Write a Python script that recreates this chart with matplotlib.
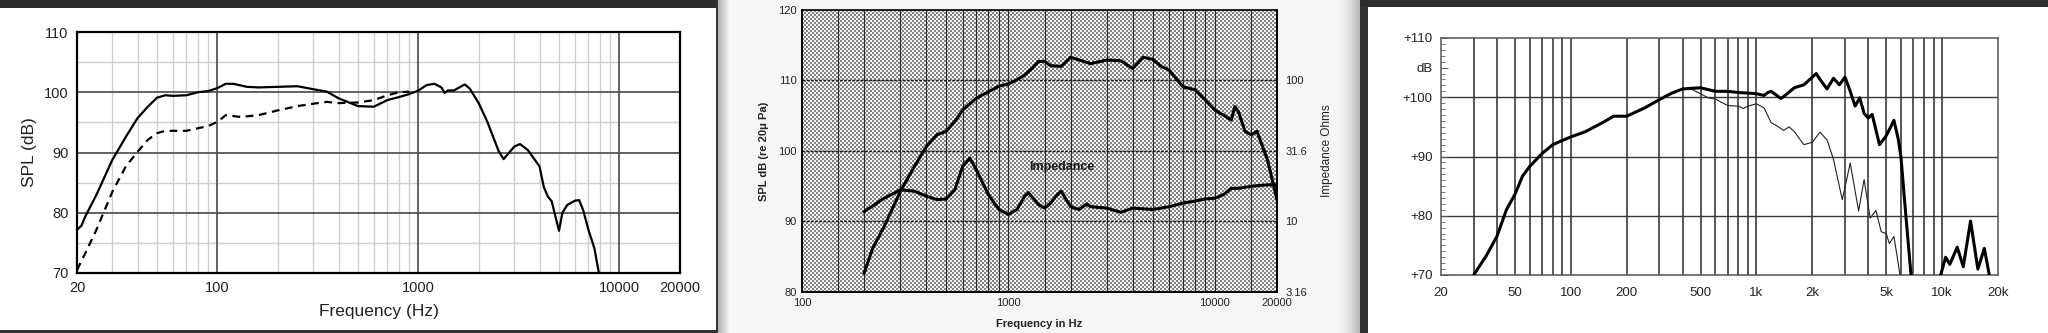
import numpy as np
import matplotlib
matplotlib.use('Agg')
import matplotlib.pyplot as plt
from matplotlib.ticker import FixedLocator, NullFormatter

# --- left sheet: SPL with and without baffle ---
f_a = [20, 21, 22, 25, 30, 35, 40, 45, 50, 55, 60, 70, 80, 90, 100, 110, 120, 140, 160,
       200, 250, 300, 350, 400, 500, 600, 700, 800, 900, 1000, 1100, 1200, 1300, 1350,
       1400, 1500, 1700, 1800, 2000, 2200, 2500, 2650, 3000, 3200, 3500, 4000, 4200,
       4400, 4600, 5000, 5200, 5500, 6000, 6300, 6600, 7000, 7500, 7900]
spl_a = [77.2, 77.8, 79.4, 83.0, 88.8, 92.6, 95.7, 97.6, 99.1, 99.5, 99.4, 99.5, 100.0,
         100.2, 100.7, 101.4, 101.4, 100.9, 100.8, 100.9, 101.0, 100.5, 100.1, 99.0, 97.7,
         97.6, 98.7, 99.2, 99.7, 100.3, 101.2, 101.4, 100.8, 99.9, 100.3, 100.3, 101.3,
         100.6, 98.1, 95.1, 90.3, 88.9, 91.0, 91.4, 90.4, 87.7, 84.3, 82.7, 81.9, 77.0,
         80.0, 81.3, 82.0, 82.1, 80.4, 77.2, 74.1, 70.0]
f_a2 = [20, 22, 25, 27.5, 30, 35, 40, 45, 50, 55, 70, 90, 100, 110, 130, 160, 200, 250,
        300, 350, 400, 500, 600, 700, 800, 900]
spl_a2 = [70.5, 73.3, 77.2, 80.5, 83.5, 87.7, 90.1, 92.1, 93.2, 93.6, 93.6, 94.4, 95.1,
          96.2, 95.9, 96.2, 97.0, 97.7, 98.1, 98.4, 98.2, 98.3, 98.7, 99.5, 100.0, 100.1]

# --- middle sheet: horn driver SPL + impedance ---
f_b = [200, 220, 250, 300, 350, 400, 450, 500, 550, 600, 700, 800, 900, 1000, 1100, 1200,
       1300, 1400, 1500, 1600, 1800, 2000, 2200, 2500, 3000, 3500, 4000, 4500, 5000, 5500,
       6000, 7000, 8000, 9000, 10000, 11000, 12000, 12500, 13000, 14000, 15000, 16000,
       18000, 20000]
spl_b = [82.7, 86.2, 89.3, 94.3, 97.8, 100.6, 102.3, 102.8, 104.2, 105.8, 107.5, 108.4,
         109.2, 109.5, 110.1, 110.8, 111.7, 112.7, 112.7, 112.1, 112.0, 113.3, 112.9, 112.4,
         112.9, 112.8, 111.7, 113.3, 113.0, 112.0, 111.5, 109.1, 108.7, 107.2, 105.8, 105.1,
         104.4, 106.3, 105.6, 102.8, 102.3, 102.8, 98.7, 93.1]
f_z = [200, 250, 300, 350, 400, 450, 500, 550, 600, 650, 700, 800, 900, 1000, 1100, 1200,
       1250, 1400, 1500, 1600, 1700, 1800, 2000, 2200, 2400, 2500, 3000, 3500, 4000, 5000,
       6000, 7000, 8000, 9000, 10000, 11000, 12000, 13000, 15000, 18000, 20000]
imp_db = [91.4, 93.3, 94.5, 94.3, 93.6, 93.1, 93.2, 94.5, 97.8, 99.0, 97.3, 93.8, 91.7,
          91.0, 91.7, 93.6, 94.1, 92.4, 91.9, 92.6, 93.6, 94.3, 92.1, 91.7, 92.5, 92.1,
          91.9, 91.3, 91.9, 91.7, 92.1, 92.6, 92.9, 93.2, 93.3, 93.8, 94.7, 94.7, 95.0,
          95.2, 95.2]

# --- right sheet: on-axis (thick) and off-axis (thin) ---
f_c = [30, 35, 40, 45, 50, 55, 60, 70, 80, 90, 100, 120, 150, 170, 200, 250, 300, 350,
       400, 500, 600, 700, 800, 900, 1000, 1100, 1150, 1200, 1300, 1350, 1400, 1600, 1800,
       2000, 2100, 2200, 2400, 2600, 2800, 3000, 3200, 3400, 3600, 3800, 4000, 4200, 4600,
       5000, 5500, 5800, 6000, 6300, 6800]
on_axis = [70.0, 73.2, 76.5, 81.0, 83.6, 86.7, 88.3, 90.5, 92.0, 92.7, 93.3, 94.2, 95.8,
           96.8, 96.8, 98.2, 99.6, 100.7, 101.4, 101.6, 101.0, 101.0, 100.8, 100.7, 100.6,
           100.3, 100.8, 101.0, 100.2, 99.8, 100.1, 101.6, 102.1, 103.4, 104.0, 103.0,
           101.4, 103.2, 102.1, 103.4, 101.0, 98.5, 99.9, 97.3, 96.5, 97.1, 92.0, 93.5,
           96.1, 93.0, 90.0, 82.0, 70.0]
f_c_hi = [9820, 10450, 11000, 12060, 13000, 14230, 15580, 16880, 17950]
on_axis_hi = [70.0, 73.0, 71.8, 74.7, 71.4, 79.1, 71.0, 74.5, 70.0]
f_c_off = [420, 450, 500, 550, 600, 700, 800, 850, 900, 1000, 1100, 1200, 1300, 1400, 1500,
           1600, 1800, 2000, 2200, 2400, 2600, 2900, 3200, 3550, 3800, 4100, 4400, 4700,
           5000, 5200, 5500, 5700, 5930]
off_axis = [101.5, 101.3, 100.6, 99.9, 99.7, 98.6, 98.5, 98.1, 98.5, 98.9, 98.2, 95.7, 95.1,
            94.4, 95.0, 94.2, 92.0, 92.4, 94.1, 92.8, 89.5, 82.7, 88.9, 80.8, 86.1, 79.6,
            80.9, 77.3, 77.0, 75.3, 76.5, 73.5, 70.0]

W, H = 2048, 333
fig = plt.figure(figsize=(W / 100, H / 100), dpi=100)


def rect(x0, y0, x1, y1):
    return [x0 / W, 1 - y1 / H, (x1 - x0) / W, (y1 - y0) / H]


# page backgrounds of the three sheets
bg = np.ones((H, W, 3))
bg[0:8, 0:716] = 0.17
bg[330:, 0:716] = 0.2
bg[:, 716:718] = 0.2
for i, x in enumerate(range(718, 730)):
    bg[:, x] = 0.70 + (0.965 - 0.70) * i / 11
bg[:, 730:1333] = 0.965
for i, x in enumerate(range(1333, 1360)):
    bg[:, x] = 0.965 - (0.965 - 0.72) * (i / 26) ** 2
bg[:, 1360:1368] = 0.2
bg[0:7, 1360:] = 0.18
# halftone screen behind the middle chart
yy, xx = np.mgrid[10:292, 802:1277]
dots = ((yy // 2 + xx // 2) % 2 == 0)
bg[10:292, 802:1277] = np.where(dots, 0.52, 0.95)[..., None]

ax_bg = fig.add_axes([0, 0, 1, 1])
ax_bg.imshow(bg, aspect='auto', interpolation='nearest')
ax_bg.axis('off')

narrow = ['Liberation Sans Narrow', 'Liberation Sans', 'DejaVu Sans']
sans = ['Liberation Sans', 'DejaVu Sans']

# ---------------- left ----------------
ax1 = fig.add_axes(rect(77, 32, 680, 273))
ax1.set_facecolor('none')
ax1.set_xscale('log')
ax1.set_xlim(20, 20000)
ax1.set_ylim(70, 110)
minor_x = [m * d for d in (10, 100, 1000) for m in range(2, 10) if m * d > 20]
for x in minor_x:
    ax1.axvline(x, color='#cfcfcf', lw=1.0, zorder=1)
for y in (75, 85, 95, 105):
    ax1.axhline(y, color='#cfcfcf', lw=1.0, zorder=1)
for x in (100, 1000, 10000):
    ax1.axvline(x, color='#555555', lw=1.3, zorder=2)
for y in (80, 90, 100):
    ax1.axhline(y, color='#555555', lw=1.3, zorder=2)
ax1.plot(f_a, spl_a, color='black', lw=1.6, zorder=4)
ax1.plot(f_a2, spl_a2, color='black', lw=1.6, ls=(0, (3.5, 2.5)), zorder=4)
ax1.xaxis.set_major_locator(FixedLocator([20, 100, 1000, 10000, 20000]))
ax1.xaxis.set_minor_locator(FixedLocator([]))
ax1.set_xticklabels(['20', '100', '1000', '10000', '20000'])
ax1.set_yticks([70, 80, 90, 100, 110])
ax1.tick_params(length=0, pad=6, labelsize=10.5, colors='#222222')
for t in ax1.get_xticklabels() + ax1.get_yticklabels():
    t.set_family(narrow)
for s in ax1.spines.values():
    s.set_linewidth(1.6)
    s.set_zorder(5)
ax1.set_xlabel('Frequency (Hz)', fontsize=12.5, family=narrow, labelpad=6, color='#222222')
ax1.set_ylabel('SPL (dB)', fontsize=12.5, family=narrow, labelpad=5, color='#222222')

# ---------------- middle ----------------
ax2 = fig.add_axes(rect(802, 10, 1277, 292))
ax2.set_facecolor('none')
ax2.set_xscale('log')
ax2.set_xlim(100, 20000)
ax2.set_ylim(80, 120)
grid_b = [150, 200, 300, 400, 500, 600, 700, 800, 900, 1000, 1500, 2000, 3000, 4000, 5000,
          6000, 7000, 8000, 9000, 10000, 15000]
for x in grid_b:
    ax2.axvline(x, color='#2a2a2a', lw=0.8, zorder=1)
for y in (90, 100, 110):
    ax2.axhline(y, color='#1a1a1a', lw=1.0, ls=(0, (2, 1)), zorder=1)
ax2.plot(f_b, spl_b, color='black', lw=2.2, zorder=4)
ax2.plot(f_z, imp_db, color='black', lw=2.2, zorder=4)
ax2.text(1820, 97.7, 'Impedance', fontsize=9, fontweight='bold', family=sans,
         ha='center', va='center', color='#1a1a1a', zorder=5)
ax2.xaxis.set_major_locator(FixedLocator([100, 1000, 10000, 20000]))
ax2.xaxis.set_minor_locator(FixedLocator([]))
ax2.set_xticklabels(['100', '1000', '10000', '20000'])
ax2.set_yticks([80, 90, 100, 110, 120])
ax2.tick_params(length=0, pad=4, labelsize=8, colors='#222222')
for t in ax2.get_xticklabels() + ax2.get_yticklabels():
    t.set_family(sans)
ax2.spines['top'].set_linestyle((0, (2, 1)))
ax2.spines['top'].set_linewidth(1.2)
for k in ('left', 'bottom', 'right'):
    ax2.spines[k].set_linewidth(1.4)
ax2.set_xlabel('Frequency in Hz', fontsize=8, fontweight='bold', family=sans, labelpad=8,
               color='#222222')
ax2.set_ylabel('SPL dB (re 20\u03bc Pa)', fontsize=8, fontweight='bold', family=sans,
               labelpad=6, color='#222222')
ax2r = ax2.twinx()
ax2r.set_yscale('log')
ax2r.set_ylim(3.16, 316)
ax2r.yaxis.set_major_locator(FixedLocator([3.16, 10, 31.6, 100]))
ax2r.yaxis.set_minor_locator(FixedLocator([]))
ax2r.yaxis.set_minor_formatter(NullFormatter())
ax2r.set_yticklabels(['3.16', '10', '31.6', '100'])
ax2r.tick_params(length=0, pad=6, labelsize=8, colors='#222222')
for t in ax2r.get_yticklabels():
    t.set_family(sans)
for s in ax2r.spines.values():
    s.set_visible(False)
ax2r.set_ylabel('Impedance Ohms', fontsize=8.5, family=sans, labelpad=10, color='#222222')

# ---------------- right ----------------
ax3 = fig.add_axes(rect(1441, 38, 1998, 275))
ax3.set_facecolor('none')
ax3.set_xscale('log')
ax3.set_xlim(20, 20000)
ax3.set_ylim(70, 110)
grid_c = [m * d for d in (10, 100, 1000) for m in range(1, 10) if 20 < m * d] + [10000]
for x in grid_c:
    ax3.axvline(x, color='#2a2a2a', lw=1.1, zorder=1)
for y in (80, 90, 100):
    ax3.axhline(y, color='#3a3a3a', lw=1.0, zorder=1)
ax3.plot(f_c_off, off_axis, color='#222222', lw=0.8, zorder=3)
ax3.plot(f_c, on_axis, color='black', lw=2.2, zorder=4)
ax3.plot(f_c_hi, on_axis_hi, color='black', lw=2.2, zorder=4)
xt = [20, 50, 100, 200, 500, 1000, 2000, 5000, 10000, 20000]
ax3.xaxis.set_major_locator(FixedLocator(xt))
ax3.xaxis.set_minor_locator(FixedLocator([]))
ax3.set_xticklabels(['20', '50', '100', '200', '500', '1k', '2k', '5k', '10k', '20k'])
ax3.tick_params(axis='x', length=0, pad=9, labelsize=9.5, colors='#222222')
ax3.yaxis.set_major_locator(FixedLocator([70, 80, 90, 100, 105, 110]))
ax3.set_yticklabels(['+70', '+80', '+90', '+100', 'dB', '+110'])
ax3.yaxis.set_minor_locator(FixedLocator(list(range(71, 110))))
ax3.tick_params(axis='y', which='major', direction='in', length=5, width=0.7,
                color='#555555', pad=6, labelsize=9.5, labelcolor='#222222')
ax3.tick_params(axis='y', which='minor', direction='in', length=3, width=0.6,
                color='#666666')
for t in ax3.get_xticklabels() + ax3.get_yticklabels():
    t.set_family(sans)
for s in ax3.spines.values():
    s.set_color('#555555')
    s.set_linewidth(1.1)

fig.savefig('out.png', dpi=100)
